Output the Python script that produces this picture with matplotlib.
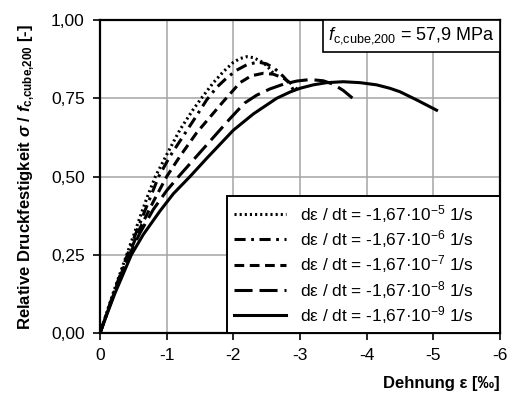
import matplotlib
matplotlib.use("Agg")
import matplotlib.pyplot as plt
from matplotlib.offsetbox import AnchoredText

plt.rcParams['font.family'] = ['Liberation Sans', 'DejaVu Sans']
plt.rcParams['mathtext.fontset'] = 'custom'
plt.rcParams['mathtext.rm'] = 'Liberation Sans'
plt.rcParams['mathtext.it'] = 'Liberation Sans:italic'
plt.rcParams['mathtext.bf'] = 'Liberation Sans:bold'
plt.rcParams['mathtext.bfit'] = 'Liberation Sans:bold:italic'
plt.rcParams['axes.unicode_minus'] = False
plt.rcParams['lines.scale_dashes'] = False

# Dehnung [‰] (Stauchung negativ) und bezogene Spannung je Dehnrate
eps_1e5 = [0, -0.1, -0.2, -0.3, -0.4, -0.5, -0.6, -0.7, -0.83, -1.0, -1.2, -1.4, -1.52,
           -1.7, -1.85, -2.0, -2.1, -2.2, -2.3, -2.4, -2.5, -2.6]
sig_1e5 = [0, 0.065, 0.13, 0.19, 0.25, 0.31, 0.37, 0.43, 0.50, 0.57, 0.65, 0.715, 0.75,
           0.80, 0.835, 0.865, 0.877, 0.883, 0.88, 0.87, 0.855, 0.83]

eps_1e6 = [0, -0.1, -0.2, -0.3, -0.41, -0.55, -0.7, -0.88, -1.05, -1.25, -1.45, -1.6, -1.75,
           -1.9, -2.05, -2.2, -2.37, -2.5, -2.62, -2.75, -2.85, -2.92]
sig_1e6 = [0, 0.063, 0.125, 0.185, 0.25, 0.325, 0.405, 0.50, 0.565, 0.63, 0.695, 0.745, 0.785,
           0.815, 0.84, 0.857, 0.866, 0.86, 0.845, 0.82, 0.795, 0.77]

eps_1e7 = [0, -0.1, -0.2, -0.3, -0.43, -0.6, -0.8, -1.0, -1.2, -1.45, -1.65, -1.85, -2.1,
           -2.27, -2.45, -2.6, -2.75, -2.85, -2.95]
sig_1e7 = [0, 0.06, 0.12, 0.18, 0.25, 0.335, 0.42, 0.50, 0.565, 0.64, 0.69, 0.74, 0.80,
           0.822, 0.83, 0.827, 0.815, 0.80, 0.78]

eps_1e8 = [0, -0.1, -0.2, -0.3, -0.44, -0.6, -0.8, -1.0, -1.2, -1.45, -1.7, -1.95, -2.17,
           -2.35, -2.55, -2.75, -2.95, -3.15, -3.35, -3.5, -3.65, -3.82]
sig_1e8 = [0, 0.06, 0.12, 0.175, 0.25, 0.32, 0.395, 0.455, 0.505, 0.565, 0.625, 0.685, 0.735,
           0.76, 0.78, 0.795, 0.805, 0.81, 0.806, 0.795, 0.775, 0.745]

eps_1e9 = [0, -0.1, -0.22, -0.33, -0.47, -0.65, -0.9, -1.1, -1.35, -1.6, -1.8, -2.0, -2.3,
           -2.65, -2.85, -3.0, -3.2, -3.4, -3.65, -3.9, -4.15, -4.35, -4.5, -4.75, -5.05]
sig_1e9 = [0, 0.058, 0.125, 0.18, 0.25, 0.315, 0.39, 0.445, 0.50, 0.558, 0.603, 0.648, 0.70,
           0.75, 0.77, 0.782, 0.793, 0.80, 0.803, 0.80, 0.793, 0.782, 0.771, 0.745, 0.712]

rate_exp = ['-5', '-6', '-7', '-8', '-9']

x_ticks = [0, -1, -2, -3, -4, -5, -6]
x_labels = ['0', '-1', '-2', '-3', '-4', '-5', '-6']
y_ticks = [0, 0.25, 0.5, 0.75, 1.0]
y_labels = ['0,00', '0,25', '0,50', '0,75', '1,00']

fig = plt.figure(figsize=(5.08, 3.94), dpi=100)
ax = fig.add_axes([0.197, 0.155, 0.787, 0.794])

styles = [(0, (1.5, 2.2)), (0, (8, 4, 2, 4)), (0, (7, 4)), (0, (13, 5)), '-']
series = [(eps_1e5, sig_1e5), (eps_1e6, sig_1e6), (eps_1e7, sig_1e7),
          (eps_1e8, sig_1e8), (eps_1e9, sig_1e9)]

for (e, s), ls, ex in zip(series, styles, rate_exp):
    ax.plot(e, s, color='black', lw=2.2, linestyle=ls, solid_joinstyle='round',
            label='dε / dt = -1,67·$10^{' + ex + '}$ 1/s     ')

ax.set_xlim(0, -6)
ax.set_ylim(0, 1.0)
ax.set_xticks(x_ticks)
ax.set_xticklabels(x_labels)
ax.set_yticks(y_ticks)
ax.set_yticklabels(y_labels)
ax.tick_params(labelsize=12.5, length=5, width=1.2, direction='out', pad=6)
ax.grid(True, color='#a4a4a4', lw=1.1)
ax.set_axisbelow(True)
for sp in ax.spines.values():
    sp.set_linewidth(1.6)

ax.set_ylabel(r'Relative Druckfestigkeit $\mathbfit{\sigma}$ / $\mathbfit{f}_{\mathbf{c{,}cube{,}200}}$ [-]',
              fontsize=12, fontweight='bold', labelpad=10)
ax.set_xlabel('Dehnung ε [‰]', fontsize=12, fontweight='bold', loc='right', labelpad=9)

leg = ax.legend(loc='lower right', fontsize=12.4, frameon=True, fancybox=False,
                edgecolor='black', framealpha=1, borderpad=0.4, labelspacing=0.2,
                handlelength=3.0, handletextpad=0.8, borderaxespad=0)
leg.get_frame().set_linewidth(1.4)

box = AnchoredText(r'$f_{\mathrm{c{,}cube{,}200}}$ = 57,9 MPa', loc='upper right',
                   prop=dict(size=13), pad=0.3, borderpad=0, frameon=True)
box.patch.set_edgecolor('black')
box.patch.set_linewidth(1.2)
box.patch.set_boxstyle('square,pad=0')
ax.add_artist(box)

fig.savefig('out.png', dpi=100)
